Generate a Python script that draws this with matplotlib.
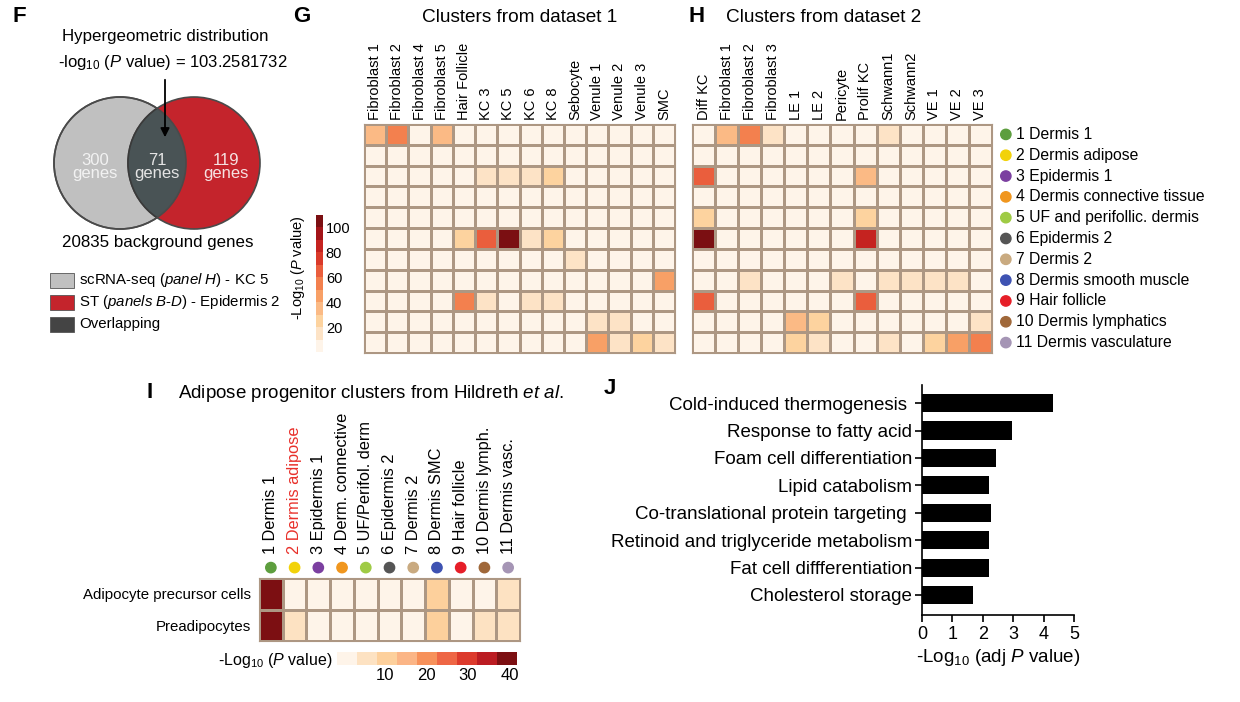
import matplotlib
matplotlib.use("Agg")
import matplotlib.pyplot as plt
import numpy as np
from matplotlib.colors import ListedColormap, BoundaryNorm
from matplotlib.patches import Circle, Rectangle

plt.rcParams['font.family'] = ['Liberation Sans', 'DejaVu Sans']
plt.rcParams['mathtext.fontset'] = 'custom'
plt.rcParams['mathtext.rm'] = 'Liberation Sans'
plt.rcParams['mathtext.it'] = 'Liberation Sans:italic'
plt.rcParams['mathtext.bf'] = 'Liberation Sans:bold'

W, H = 1240, 702

# ---- data ----
clusters = ["1 Dermis 1", "2 Dermis adipose", "3 Epidermis 1", "4 Dermis connective tissue",
            "5 UF and perifollic. dermis", "6 Epidermis 2", "7 Dermis 2", "8 Dermis smooth muscle",
            "9 Hair follicle", "10 Dermis lymphatics", "11 Dermis vasculature"]
cluster_colors = ["#5d9e3e", "#f2d20a", "#7b3fa0", "#f0961e", "#9fcb45", "#555555",
                  "#c9aa80", "#3e52b2", "#e61e28", "#a0683a", "#a595b5"]

set1_cols = ["Fibroblast 1", "Fibroblast 2", "Fibroblast 4", "Fibroblast 5", "Hair Follicle",
             "KC 3", "KC 5", "KC 6", "KC 8", "Sebocyte", "Venule 1", "Venule 2", "Venule 3", "SMC"]
set1_vals = np.array([
    [36, 55, 4, 36, 4, 3, 3, 3, 3, 3, 3, 3, 3, 3],
    [4, 4, 3, 3, 3, 3, 3, 3, 3, 3, 3, 3, 3, 3],
    [3, 3, 3, 3, 4, 14, 14, 14, 24, 3, 3, 3, 3, 3],
    [3, 3, 3, 3, 3, 3, 3, 3, 3, 3, 3, 3, 3, 3],
    [3, 3, 3, 3, 3, 3, 3, 3, 3, 3, 3, 3, 3, 3],
    [3, 3, 3, 3, 28, 65, 105, 14, 28, 4, 3, 3, 3, 3],
    [3, 3, 3, 3, 3, 4, 3, 3, 3, 14, 3, 3, 3, 3],
    [3, 3, 3, 3, 3, 3, 3, 3, 3, 3, 3, 3, 3, 42],
    [3, 3, 3, 3, 55, 14, 4, 12, 14, 3, 3, 3, 3, 3],
    [3, 3, 3, 3, 3, 3, 3, 3, 3, 3, 14, 14, 3, 3],
    [3, 3, 3, 3, 3, 3, 3, 3, 3, 3, 40, 15, 28, 15],
])

set2_cols = ["Diff KC", "Fibroblast 1", "Fibroblast 2", "Fibroblast 3", "LE 1", "LE 2", "Pericyte",
             "Prolif KC", "Schwann1", "Schwann2", "VE 1", "VE 2", "VE 3"]
set2_vals = np.array([
    [4, 38, 55, 15, 3, 3, 3, 4, 15, 3, 3, 3, 3],
    [3, 3, 3, 3, 3, 3, 3, 3, 3, 3, 3, 3, 3],
    [65, 3, 3, 3, 3, 3, 3, 35, 3, 3, 3, 3, 3],
    [3, 3, 3, 3, 3, 3, 3, 3, 3, 3, 3, 3, 3],
    [25, 3, 3, 3, 3, 3, 3, 28, 3, 3, 3, 3, 3],
    [105, 3, 3, 3, 3, 3, 3, 82, 3, 3, 3, 3, 3],
    [3, 3, 3, 3, 3, 3, 3, 3, 3, 3, 3, 3, 3],
    [3, 3, 12, 3, 3, 3, 12, 3, 12, 12, 12, 12, 3],
    [65, 3, 3, 3, 3, 3, 3, 65, 3, 3, 3, 3, 3],
    [3, 3, 3, 3, 38, 25, 3, 3, 3, 3, 3, 3, 14],
    [3, 3, 3, 3, 25, 14, 3, 3, 12, 3, 25, 40, 55],
])

hild_cols = ["1 Dermis 1", "2 Dermis adipose", "3 Epidermis 1", "4 Derm. connective",
             "5 UF/Perifol. derm", "6 Epidermis 2", "7 Dermis 2", "8 Dermis SMC",
             "9 Hair follicle", "10 Dermis lymph.", "11 Dermis vasc."]
hild_rows = ["Adipocyte precursor cells", "Preadipocytes"]
hild_vals = np.array([
    [41, 2, 2, 2, 2, 2, 2, 9, 2, 2, 4],
    [41, 5, 2, 2, 2, 2, 2, 9, 2, 5, 8],
])

go_terms = ["Cold-induced thermogenesis ", "Response to fatty acid", "Foam cell differentiation",
            "Lipid catabolism", "Co-translational protein targeting ", "Retinoid and triglyceride metabolism",
            "Fat cell diffferentiation", "Cholesterol storage"]
go_logp = [4.31, 2.96, 2.43, 2.2, 2.26, 2.2, 2.2, 1.68]

venn_counts = [300, 71, 119]

# ---- colour scales ----
gh_cmap = ListedColormap(["#fef4e9", "#fde3c6", "#fdd39f", "#fbba85", "#f8a066", "#f3804e",
                          "#ea5e3d", "#da3a2a", "#c52320", "#a31419", "#7b0f12"])
gh_norm = BoundaryNorm([0, 10, 20, 30, 40, 50, 60, 70, 80, 90, 100, 115], gh_cmap.N)
i_cmap = ListedColormap(["#fef4e9", "#fde2c2", "#fdd09c", "#fbb586", "#f7915a", "#ee6645",
                         "#dc3a2c", "#bb1c22", "#7c0f12"])
i_norm = BoundaryNorm(np.linspace(-1.6, 41.8, 10), i_cmap.N)
grid_col = "#ad9783"

fig = plt.figure(figsize=(W / 100, H / 100), dpi=100)


def px_axes(x0, y0, x1, y1):
    return fig.add_axes([x0 / W, 1 - y1 / H, (x1 - x0) / W, (y1 - y0) / H])


# overlay for free text and the venn diagram
ax0 = fig.add_axes([0, 0, 1, 1])
ax0.set_xlim(0, W)
ax0.set_ylim(H, 0)
ax0.axis('off')

for lab, x, y in [("F", 12, 16), ("G", 293, 16), ("H", 688, 16), ("I", 146, 393), ("J", 604, 389)]:
    ax0.text(x, y, lab, fontsize=16, fontweight='bold', va='center', ha='left')

# ---- F: venn ----
ax0.text(165, 37, "Hypergeometric distribution", fontsize=12.2, ha='center', va='center')
ax0.text(173, 63, r"-log$_{\mathrm{10}}$ ($\it{P}$ value) = 103.2581732", fontsize=12,
         ha='center', va='center')
left = Circle((120, 163), 66, facecolor="#c0c0c0", edgecolor="#4a4a4a", lw=1.2)
right = Circle((194, 163), 66, facecolor="#c4242c", edgecolor="#4a4a4a", lw=1.2)
ax0.add_patch(left)
ax0.add_patch(right)
overlap = Circle((194, 163), 66, facecolor="#495355", edgecolor="#3a3a3a", lw=1.2)
ax0.add_patch(overlap)
overlap.set_clip_path(left)
ax0.add_patch(Circle((120, 163), 66, facecolor='none', edgecolor="#4a4a4a", lw=1.2))
for n, x, c in zip(venn_counts, [95, 157, 226], ["#f2f2f2", "#e4e4e4", "#f6e2e2"]):
    ax0.text(x, 167, f"{n}\ngenes", fontsize=12, ha='center', va='center', color=c, linespacing=0.85)
ax0.annotate('', xy=(165, 140), xytext=(165, 77),
             arrowprops=dict(arrowstyle='-|>', color='black', lw=1.3, mutation_scale=13))
ax0.text(158, 243, "20835 background genes", fontsize=12.2, ha='center', va='center')
venn_legend = [("#c0c0c0", r"scRNA-seq ($\it{panel\ H}$) - KC 5"),
               ("#c4242c", r"ST ($\it{panels\ B}$-$\it{D}$) - Epidermis 2"),
               ("#444444", "Overlapping")]
for k, (c, lab) in enumerate(venn_legend):
    y = 280 + 22 * k
    ax0.add_patch(Rectangle((50, y - 7.5), 24, 15, facecolor=c, edgecolor='#555555', lw=0.6))
    ax0.text(79, y, lab, fontsize=10.8, va='center', ha='left')

# ---- G / H heatmaps ----
ax0.text(520, 18, "Clusters from dataset 1", fontsize=13.7, ha='center', va='center')
ax0.text(824, 18, "Clusters from dataset 2", fontsize=13.7, ha='center', va='center')


def heatmap(ax, vals, cols, cmap, norm, pad=3, fs=10.5):
    mesh = ax.pcolormesh(vals, cmap=cmap, norm=norm, edgecolors=grid_col, linewidth=0.8)
    ax.set_xlim(0, vals.shape[1])
    ax.set_ylim(vals.shape[0], 0)
    ax.xaxis.tick_top()
    ax.set_xticks(np.arange(vals.shape[1]) + 0.5)
    ax.set_xticklabels(cols, rotation=90, fontsize=fs)
    ax.tick_params(axis='x', length=0, pad=pad)
    ax.set_yticks([])
    for s in ax.spines.values():
        s.set_color(grid_col)
        s.set_linewidth(0.8)
    return mesh


ax_g = px_axes(364, 124, 675, 353)
mesh_g = heatmap(ax_g, set1_vals, set1_cols, gh_cmap, gh_norm)
ax_h = px_axes(692, 124, 992, 353)
heatmap(ax_h, set2_vals, set2_cols, gh_cmap, gh_norm)

ncl = len(clusters)
ax_h.scatter([13.6] * ncl, np.arange(ncl) + 0.5, s=55, c=cluster_colors, clip_on=False, zorder=5)
for i, lab in enumerate(clusters):
    ax_h.text(14.05, i + 0.5, lab, fontsize=11.3, va='center', ha='left')

cax_g = px_axes(316, 215, 323, 352)
cb_g = fig.colorbar(mesh_g, cax=cax_g, ticks=[20, 40, 60, 80, 100])
cb_g.outline.set_visible(False)
cb_g.ax.minorticks_off()
cb_g.ax.tick_params(length=0, labelsize=10.5, pad=2)
cb_g.ax.text(-2.6, 0.62, r"-Log$_{\mathrm{10}}$ ($\it{P}$ value)", transform=cb_g.ax.transAxes,
             rotation=90, ha='center', va='center', fontsize=10.5)

# ---- I ----
ax0.text(178, 393, r"Adipose progenitor clusters from Hildreth $\it{et\ al.}$", fontsize=13.5,
         ha='left', va='center')
ax_i = px_axes(259, 578, 520, 641)
mesh_i = heatmap(ax_i, hild_vals, hild_cols, i_cmap, i_norm, pad=17, fs=11.8)
ax_i.get_xticklabels()[1].set_color("#e8302a")
ax_i.set_yticks([0.5, 1.5])
ax_i.set_yticklabels(hild_rows, fontsize=10.8)
ax_i.tick_params(axis='y', length=0, pad=6)
ax_i.scatter(np.arange(len(hild_cols)) + 0.5, [-0.33] * len(hild_cols), s=55, c=cluster_colors,
             clip_on=False, zorder=5)

cax_i = px_axes(337, 652, 517, 665)
cb_i = fig.colorbar(mesh_i, cax=cax_i, orientation='horizontal', ticks=[10, 20, 30, 40])
cb_i.outline.set_visible(False)
cb_i.ax.minorticks_off()
cb_i.ax.tick_params(length=0, labelsize=12, pad=2)
ax0.text(333, 660, r"-Log$_{\mathrm{10}}$ ($\it{P}$ value)", fontsize=11.5, ha='right', va='center')

# ---- J ----
ax_j = px_axes(922, 385, 1074, 615)
ax_j.barh(np.arange(len(go_terms)), go_logp, height=0.66, color='black')
ax_j.set_ylim(len(go_terms) - 0.27, -0.66)
ax_j.set_xlim(0, 5)
ax_j.set_yticks(np.arange(len(go_terms)))
ax_j.set_yticklabels(go_terms, fontsize=13.5)
ax_j.set_xticks(range(6))
ax_j.tick_params(axis='x', labelsize=13, length=5, width=1.2, pad=3)
ax_j.tick_params(axis='y', length=5, width=1.2, pad=2)
for s in ['top', 'right']:
    ax_j.spines[s].set_visible(False)
for s in ['left', 'bottom']:
    ax_j.spines[s].set_linewidth(1.2)
ax_j.set_xlabel(r"-Log$_{\mathrm{10}}$ (adj $\it{P}$ value)", fontsize=13.5, labelpad=3)

fig.savefig("out.png", dpi=100)
